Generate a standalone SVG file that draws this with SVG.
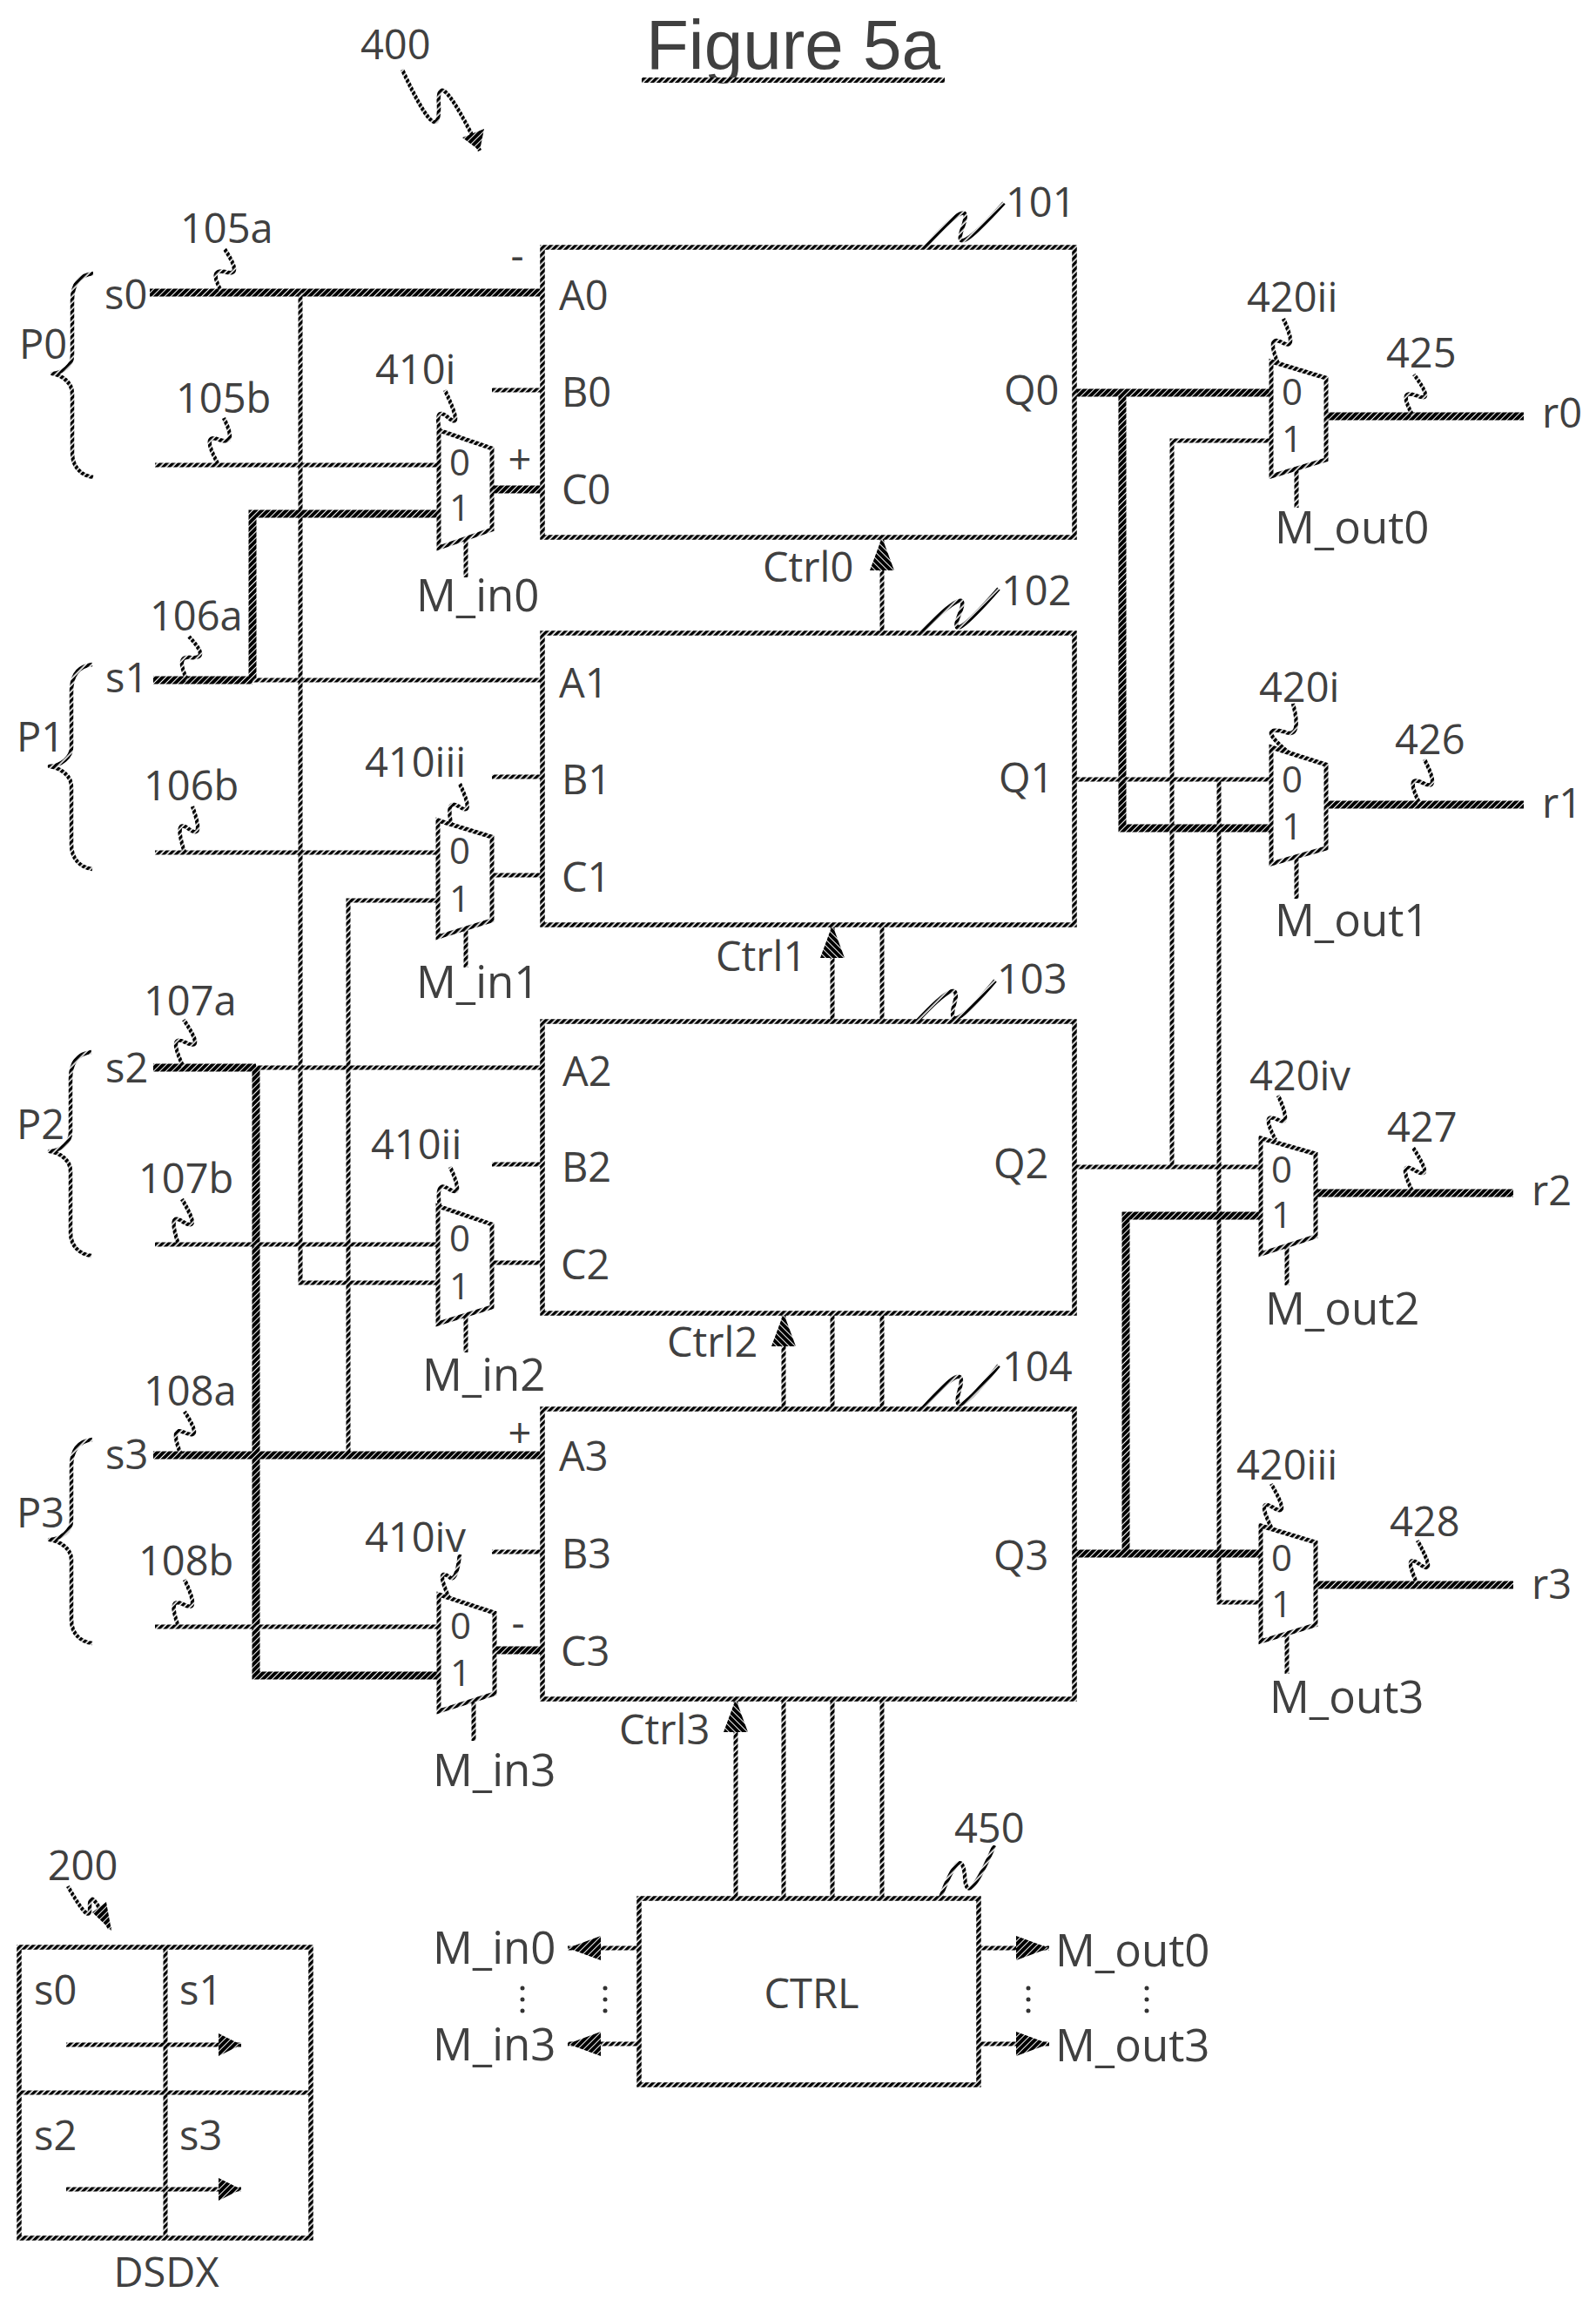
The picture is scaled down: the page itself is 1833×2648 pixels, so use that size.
<svg xmlns="http://www.w3.org/2000/svg" width="1833" height="2648" viewBox="0 0 1833 2648">
<style>
text{font-family:"Open Sans","Noto Sans","Liberation Sans",sans-serif;font-size:47px;fill:#404040}
.m{text-anchor:middle}
.d{font-size:42px;text-anchor:middle}
.l{font-size:51px}
.t{font-family:"Liberation Sans","Open Sans",sans-serif;font-size:80px}
.box,.mux,.w,.b,.sq{fill:none;stroke:url(#h)}
.box{stroke-width:5.5;fill:#fff}
.mux{stroke-width:5;fill:#fff}
.w{stroke-width:5}
.b{stroke:url(#h2);stroke-width:9}
.sq{stroke-width:4.5;stroke-linejoin:round}
.ar{marker-end:url(#ah)}
.ars{marker-end:url(#as)}
.head{fill:url(#h2)}
</style>
<defs>
<pattern id="h" width="5" height="5" patternUnits="userSpaceOnUse" patternTransform="rotate(45)"><rect width="5" height="5" fill="#fff"/><rect width="3.4" height="5" fill="#000"/></pattern>
<pattern id="h2" width="5" height="5" patternUnits="userSpaceOnUse" patternTransform="rotate(45)"><rect width="5" height="5" fill="#fff"/><rect width="4" height="5" fill="#000"/></pattern>
<marker id="ah" viewBox="0 0 38 28" refX="38" refY="14" markerWidth="38" markerHeight="28" markerUnits="userSpaceOnUse" orient="auto"><path class="head" d="M0 0L38 14L0 28Z"/></marker>
<marker id="as" viewBox="0 0 26 26" refX="26" refY="13" markerWidth="26" markerHeight="26" markerUnits="userSpaceOnUse" orient="auto"><path class="head" d="M0 0L26 13L0 26Z"/></marker>
</defs>
<rect width="1833" height="2648" fill="#fff"/>
<g id="connectors">
<path class="w ar" d="M1013 727V617"/>
<path class="w ar" d="M956 1173V1062"/>
<path class="w" d="M1013 1062V1173"/>
<path class="w ar" d="M900 1618V1508"/>
<path class="w" d="M956 1508V1618M1013 1508V1618"/>
<path class="w ar" d="M845 2180V1951"/>
<path class="w" d="M900 2180V1951M956 2180V1951M1013 2180V1951"/>
<path class="w ar" d="M734 2237H652"/>
<path class="w ar" d="M734 2347H652"/>
<path class="w ar" d="M1124 2237H1205"/>
<path class="w ar" d="M1124 2347H1205"/>
<path class="b" d="M172 336H623"/>
<path class="w" d="M345 336V1473H503"/>
<path class="w" d="M178 534H504"/>
<path class="b" d="M504 590H290V781M176 781H290"/>
<path class="w" d="M290 781H623"/>
<path class="w" d="M178 979H503"/>
<path class="w" d="M503 1034H400V1671"/>
<path class="b" d="M176 1226H294"/>
<path class="w" d="M294 1226H623"/>
<path class="b" d="M294 1226V1924H505"/>
<path class="w" d="M178 1429H503"/>
<path class="b" d="M176 1671H623"/>
<path class="w" d="M178 1868H504"/>
<path class="b" d="M565 562H623"/>
<path class="w" d="M565 1005H623M565 1450H623"/>
<path class="b" d="M568 1895H623"/>
<path class="w" d="M565 448H623M565 892H623M565 1337H623M565 1782H623"/>
<path class="w" d="M535 620V663M535 1066V1111M535 1510V1553M544 1955V1999"/>
<path class="b" d="M1234 451H1460M1289 451V951H1460"/>
<path class="w" d="M1460 506H1346V1340"/>
<path class="w" d="M1234 895H1460"/>
<path class="w" d="M1400 895V1840H1448"/>
<path class="w" d="M1234 1340H1448"/>
<path class="b" d="M1448 1396H1293V1784M1234 1784H1448"/>
<path class="b" d="M1523 478H1750M1523 924H1750M1511 1370H1738M1511 1820H1738"/>
<path class="w" d="M1489 537V583M1489 985V1032M1478 1430V1476M1478 1875V1922"/>
<path class="sq" d="M462 80Q505 173 504 122Q500 68 551 173"/>
<path class="head" d="M531 158L556 148L551 173Z"/>
<path class="sq" d="M258 286Q280 319 258 312Q239 308 255 336"/>
<path class="sq" d="M257 480Q273 512 252 505Q230 496 251 534"/>
<path class="sq" d="M511 448Q534 497 513 478Q499 467 505 495"/>
<path class="sq" d="M217 731Q242 757 219 755Q201 752 215 781"/>
<path class="sq" d="M221 926Q235 965 217 952Q199 938 212 979"/>
<path class="sq" d="M528 900Q546 939 527 926Q511 916 519 950"/>
<path class="sq" d="M211 1171Q236 1208 213 1197Q192 1186 211 1226"/>
<path class="sq" d="M209 1377Q232 1416 210 1403Q192 1390 205 1429"/>
<path class="sq" d="M517 1340Q534 1377 515 1365Q500 1355 505 1385"/>
<path class="sq" d="M212 1621Q234 1655 212 1645Q194 1636 208 1671"/>
<path class="sq" d="M212 1814Q231 1854 210 1842Q192 1833 205 1868"/>
<path class="sq" d="M528 1785Q524 1820 515 1810Q500 1800 517 1838"/>
<path class="sq" d="M1063 283Q1120 220 1106 260Q1090 303 1153 233"/>
<path class="sq" d="M1057 727Q1118 666 1102 705Q1085 747 1147 676"/>
<path class="sq" d="M1053 1173Q1107 1115 1096 1153Q1084 1196 1143 1126"/>
<path class="sq" d="M1060 1617Q1113 1557 1102 1596Q1089 1640 1147 1568"/>
<path class="sq" d="M1080 2179Q1104 2116 1108 2153Q1109 2196 1142 2119"/>
<path class="sq" d="M1474 366Q1491 404 1472 393Q1454 384 1468 418"/>
<path class="sq" d="M1624 430Q1649 464 1626 454Q1605 446 1623 478"/>
<path class="sq" d="M1485 808Q1496 850 1474 840Q1442 833 1482 866"/>
<path class="sq" d="M1636 872Q1655 910 1634 899Q1613 888 1631 924"/>
<path class="sq" d="M1468 1258Q1485 1296 1466 1285Q1448 1277 1465 1309"/>
<path class="sq" d="M1623 1318Q1648 1357 1625 1344Q1604 1331 1623 1370"/>
<path class="sq" d="M1460 1704Q1483 1744 1462 1731Q1443 1719 1460 1754"/>
<path class="sq" d="M1628 1769Q1651 1811 1630 1796Q1611 1782 1628 1820"/>
<path class="sq" d="M78 2166Q105 2214 103 2189Q103 2164 126 2215"/>
<path class="head" d="M106 2196L122 2184L128 2217Z"/>
<path class="sq" d="M107 314C90 316 83 328 83 345V408C83 420 72 428 60 429C72 431 83 440 83 452V520C83 535 92 546 107 548"/>
<path class="sq" d="M106 763C89 765 82 777 82 794V858C82 870 70 879 57 880C70 882 82 891 82 903V970C82 985 91 996 106 998"/>
<path class="sq" d="M105 1208C88 1210 81 1222 81 1239V1300C81 1312 70 1321 57 1322C70 1324 81 1333 81 1345V1415C81 1430 90 1440 105 1442"/>
<path class="sq" d="M106 1653C89 1655 82 1667 82 1684V1746C82 1758 70 1767 57 1768C70 1770 82 1779 82 1791V1860C82 1875 91 1885 106 1887"/>
</g>
<g id="title">
<text class="t" x="742" y="79" textLength="338" lengthAdjust="spacingAndGlyphs">Figure 5a</text>
<path d="M737 92H1085" stroke="url(#h)" stroke-width="6" fill="none"/>
</g>
<g id="block101"><rect class="box" x="623" y="284" width="611" height="333"/>
<text x="642" y="356">A0</text><text x="645" y="467">B0</text><text x="645" y="579">C0</text><text x="1153" y="465">Q0</text></g>
<g id="block102"><rect class="box" x="623" y="727" width="611" height="335"/>
<text x="642" y="801">A1</text><text x="645" y="912">B1</text><text x="645" y="1024">C1</text><text x="1147" y="910">Q1</text></g>
<g id="block103"><rect class="box" x="623" y="1173" width="611" height="335"/>
<text x="646" y="1247">A2</text><text x="645" y="1357">B2</text><text x="644" y="1469">C2</text><text x="1141" y="1353">Q2</text></g>
<g id="block104"><rect class="box" x="623" y="1618" width="611" height="333"/>
<text x="642" y="1689">A3</text><text x="645" y="1801">B3</text><text x="644" y="1913">C3</text><text x="1141" y="1803">Q3</text></g>
<g id="mux410i"><path class="mux" d="M504 494L565 515V608L504 629Z"/><text class="d" x="528" y="546">0</text><text class="d" x="528" y="598">1</text></g>
<g id="mux410iii"><path class="mux" d="M503 942L565 961V1057L503 1076Z"/><text class="d" x="528" y="992">0</text><text class="d" x="528" y="1047">1</text></g>
<g id="mux410ii"><path class="mux" d="M503 1385L565 1406V1501L503 1520Z"/><text class="d" x="528" y="1437">0</text><text class="d" x="528" y="1492">1</text></g>
<g id="mux410iv"><path class="mux" d="M504 1831L568 1852V1945L504 1965Z"/><text class="d" x="529" y="1882">0</text><text class="d" x="529" y="1936">1</text></g>
<g id="mux420ii"><path class="mux" d="M1460 415L1523 434V528L1460 547Z"/><text class="d" x="1484" y="465">0</text><text class="d" x="1484" y="519">1</text></g>
<g id="mux420i"><path class="mux" d="M1460 858L1523 878V974L1460 992Z"/><text class="d" x="1484" y="910">0</text><text class="d" x="1484" y="964">1</text></g>
<g id="mux420iv"><path class="mux" d="M1448 1307L1511 1325V1420L1448 1440Z"/><text class="d" x="1472" y="1358">0</text><text class="d" x="1472" y="1410">1</text></g>
<g id="mux420iii"><path class="mux" d="M1448 1752L1511 1771V1866L1448 1885Z"/><text class="d" x="1472" y="1804">0</text><text class="d" x="1472" y="1857">1</text></g>
<g id="ctrl"><rect class="box" x="734" y="2180" width="390" height="214"/><text class="m" x="932" y="2306">CTRL</text></g>
<g id="dsdx">
<rect class="box" x="22" y="2236" width="335" height="334"/>
<path class="w" d="M22 2403H357M190 2236V2570"/>
<path class="w ars" d="M76 2348H277"/><path class="w ars" d="M76 2514H277"/>
<text x="39" y="2302">s0</text><text x="206" y="2302">s1</text><text x="39" y="2469">s2</text><text x="206" y="2469">s3</text>
<text class="m" x="191" y="2626">DSDX</text>
</g>
<g id="labels">
<text x="414" y="68">400</text><text x="207" y="279">105a</text><text x="202" y="474">105b</text>
<text x="431" y="441">410i</text><text x="172" y="724">106a</text><text x="165" y="919">106b</text>
<text x="419" y="892">410iii</text><text x="165" y="1166">107a</text><text x="159" y="1370">107b</text>
<text x="426" y="1331">410ii</text><text x="165" y="1614">108a</text><text x="159" y="1809">108b</text>
<text x="419" y="1782">410iv</text>
<text x="120" y="355">s0</text><text x="121" y="795">s1</text><text x="121" y="1243">s2</text><text x="121" y="1687">s3</text>
<text x="22" y="412">P0</text><text x="19" y="863">P1</text><text x="19" y="1308">P2</text><text x="19" y="1754">P3</text>
<text class="m" x="594" y="310">-</text><text class="m" x="597" y="544">+</text><text class="m" x="597" y="1662">+</text><text class="m" x="595" y="1880">-</text>
<text class="l" x="478" y="702">M_in0</text><text class="l" x="478" y="1146">M_in1</text><text class="l" x="485" y="1597">M_in2</text><text class="l" x="497" y="2051">M_in3</text>
<text x="876" y="668">Ctrl0</text><text x="822" y="1115">Ctrl1</text><text x="766" y="1558">Ctrl2</text><text x="711" y="2003">Ctrl3</text>
<text x="1155" y="249">101</text><text x="1150" y="695">102</text><text x="1145" y="1141">103</text><text x="1151" y="1586">104</text><text x="1096" y="2116">450</text>
<text x="1432" y="358">420ii</text><text x="1446" y="806">420i</text><text x="1435" y="1252">420iv</text><text x="1420" y="1699">420iii</text>
<text x="1592" y="422">425</text><text x="1602" y="866">426</text><text x="1593" y="1311">427</text><text x="1596" y="1764">428</text>
<text x="1771" y="491">r0</text><text x="1771" y="939">r1</text><text x="1759" y="1384">r2</text><text x="1759" y="1836">r3</text>
<text class="l" x="1464" y="624">M_out0</text><text class="l" x="1464" y="1075">M_out1</text><text class="l" x="1453" y="1521">M_out2</text><text class="l" x="1458" y="1967">M_out3</text>
<text x="95" y="2159" class="m">200</text>
<text class="l" x="497" y="2255">M_in0</text><text class="l" x="497" y="2366">M_in3</text>
<text class="l" x="1212" y="2258">M_out0</text><text class="l" x="1212" y="2367">M_out3</text>
<g fill="#333"><circle cx="600" cy="2283" r="2.5"/><circle cx="600" cy="2296" r="2.5"/><circle cx="600" cy="2309" r="2.5"/><circle cx="695" cy="2283" r="2.5"/><circle cx="695" cy="2296" r="2.5"/><circle cx="695" cy="2309" r="2.5"/><circle cx="1181" cy="2283" r="2.5"/><circle cx="1181" cy="2296" r="2.5"/><circle cx="1181" cy="2309" r="2.5"/><circle cx="1317" cy="2283" r="2.5"/><circle cx="1317" cy="2296" r="2.5"/><circle cx="1317" cy="2309" r="2.5"/></g>
</g>
</svg>
